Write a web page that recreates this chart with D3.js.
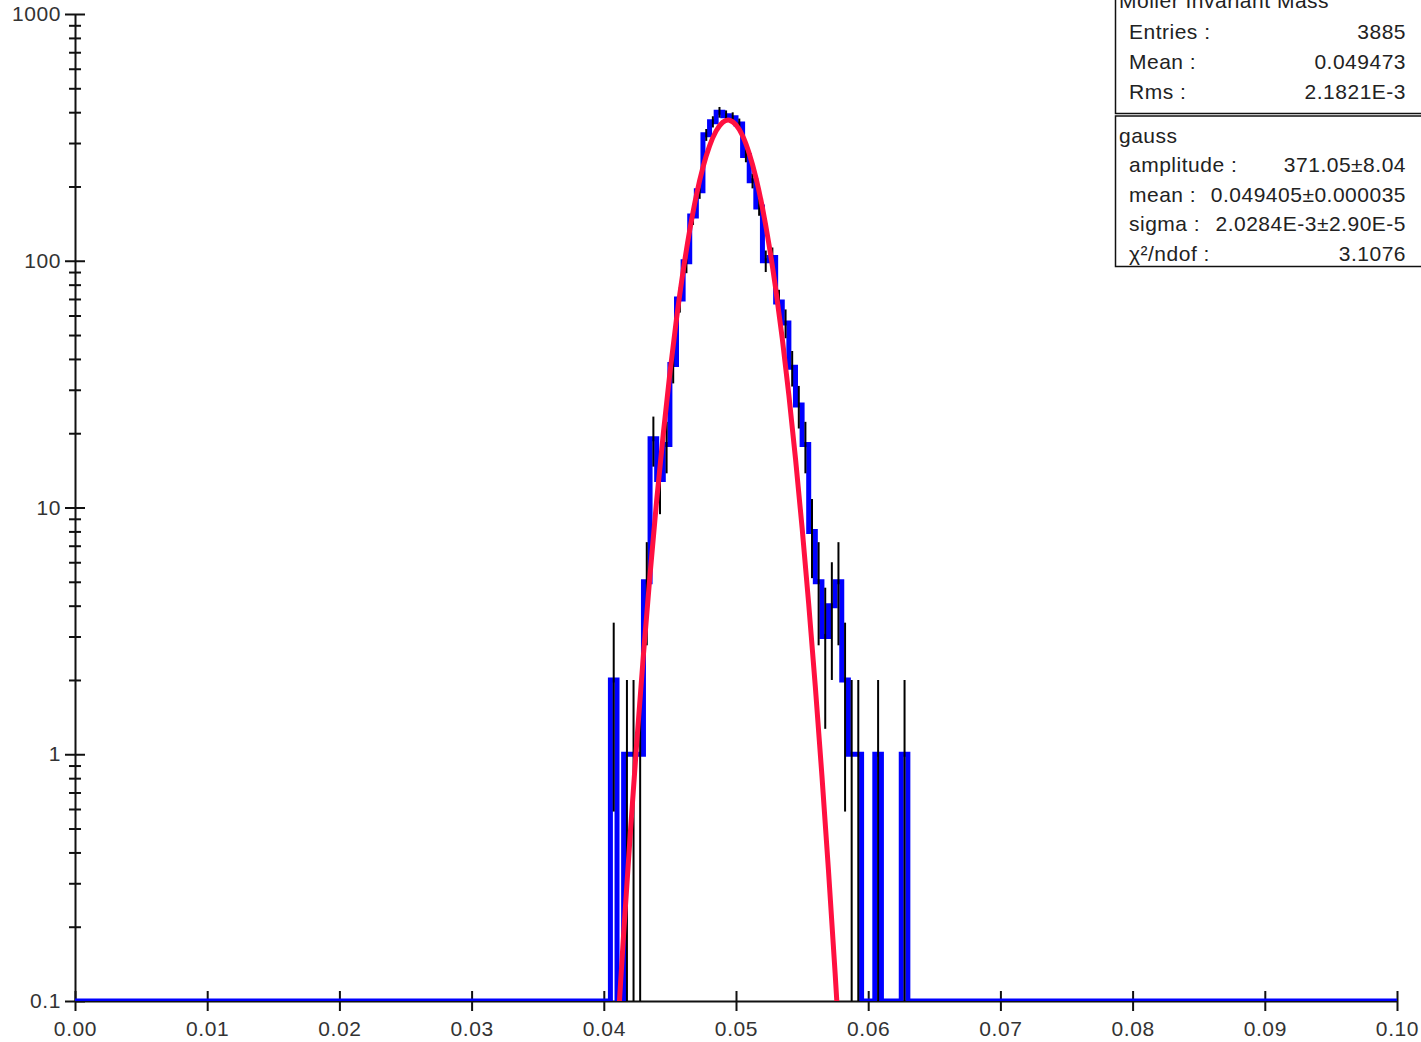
<!DOCTYPE html>
<html>
<head>
<meta charset="utf-8">
<script src="https://cdn.jsdelivr.net/npm/d3@7"></script>
<style>
  html, body { margin: 0; padding: 0; background: #fff; }
  svg { display: block; font-family: "Liberation Sans", Arial, sans-serif; }
  .axis text { font-size: 21px; fill: #333; letter-spacing: 0.6px; }
  .axis path, .axis line { stroke: #111; stroke-width: 2; }
  .stats text { font-size: 21px; fill: #222; letter-spacing: 0.5px; }
</style>
</head>
<body>
<div id="chart"></div>
<script>
//histogram: 200 bins over [0, 0.1], only the non-empty bins are listed
const xMin = 0, xMax = 0.1, nBins = 200;
const binLow = [0.0405, 0.0415, 0.0420, 0.0425, 0.0430, 0.0435, 0.0440, 0.0445,
  0.0450, 0.0455, 0.0460, 0.0465, 0.0470, 0.0475, 0.0480, 0.0485, 0.0490, 0.0495,
  0.0500, 0.0505, 0.0510, 0.0515, 0.0520, 0.0525, 0.0530, 0.0535, 0.0540, 0.0545,
  0.0550, 0.0555, 0.0560, 0.0565, 0.0570, 0.0575, 0.0580, 0.0585, 0.0590, 0.0605,
  0.0625];
const binCount = [2, 1, 1, 1, 5, 19, 13, 18,
  38, 70, 99, 152, 192, 324, 366, 400, 387, 380,
  358, 267, 211, 165, 100, 103, 68, 56, 37, 26,
  18, 8, 5, 3, 4, 5, 2, 1, 1, 1,
  1];

//gauss fit curve
const fitX = [0.0410, 0.0415, 0.0420, 0.0425, 0.0430, 0.0435, 0.0440, 0.0445, 0.0450,
  0.0455, 0.0460, 0.0465, 0.0470, 0.0475, 0.0480, 0.0485, 0.0490, 0.0495, 0.0500,
  0.0505, 0.0510, 0.0515, 0.0520, 0.0525, 0.0530, 0.0535, 0.0540, 0.0545, 0.0550,
  0.0555, 0.0560, 0.0565, 0.0570, 0.0575, 0.0580];
const fitY = [0.0693, 0.187, 0.474, 1.13, 2.54, 5.36, 10.7, 19.9, 35.1,
  58.2, 90.7, 133, 184, 239, 292, 336, 364, 371, 355,
  321, 272, 218, 164, 116, 77.2, 48.4, 28.5, 15.8, 8.27,
  4.06, 1.88, 0.818, 0.335, 0.129, 0.0468];

//ticks
const xTicks = [0, 0.01, 0.02, 0.03, 0.04, 0.05, 0.06, 0.07, 0.08, 0.09, 0.1];
const yTicks = [0.1, 1, 10, 100, 1000];
const yTickLabels = ["0.1", "1", "10", "100", "1000"];

//stats box
const statsTitle = "Moller Invariant Mass";
const statsLabels = ["Entries :", "Mean :", "Rms :"];
const statsValues = ["3885", "0.049473", "2.1821E-3"];
const fitTitle = "gauss";
const fitLabels = ["amplitude :", "mean :", "sigma :", "χ²/ndof :"];
const fitValues = ["371.05±8.04", "0.049405±0.000035", "2.0284E-3±2.90E-5", "3.1076"];

//size
const width = 1421, height = 1042;
const plot = { left: 75, right: 1397, top: 14, bottom: 1001 };

//scale
const xScale = d3.scaleLinear().domain([xMin, xMax]).range([plot.left, plot.right]);
const yScale = d3.scaleLog().domain([0.1, 1000]).range([plot.bottom, plot.top]);
const yPos = (v) => (v > 0 ? yScale(v) : plot.bottom);

//data process
const bw = (xMax - xMin) / nBins;
const counts = new Array(nBins).fill(0);
binLow.forEach((b, i) => { counts[Math.round((b - xMin) / bw)] = binCount[i]; });
const bins = counts.map((n, i) => ({ x0: xMin + i * bw, n }));
const stepPts = bins.map((b) => [b.x0, b.n]).concat([[xMax, counts[nBins - 1]]]);
const filled = bins.filter((b) => b.n > 0);

//create element
const svg = d3.select("#chart").append("svg")
  .attr("width", width).attr("height", height);

svg.append("defs").append("clipPath").attr("id", "plot-clip")
  .append("rect")
  .attr("x", plot.left).attr("y", 0)
  .attr("width", plot.right - plot.left).attr("height", plot.bottom);

//x-axis, ticks on both sides
svg.append("g").attr("class", "axis x-axis")
  .attr("transform", `translate(0,${plot.bottom})`)
  .call(d3.axisBottom(xScale).tickValues(xTicks).tickFormat(d3.format(".2f"))
    .tickSizeInner(10).tickSizeOuter(0).tickPadding(10));
svg.append("g").attr("class", "axis x-axis-up")
  .attr("transform", `translate(0,${plot.bottom})`)
  .call(d3.axisTop(xScale).tickValues(xTicks).tickFormat("").tickSize(10))
  .call((g) => g.select(".domain").remove());

//y-axis, majors and log minors on both sides
const yMinor = yScale.ticks().filter((t) => !yTicks.some((m) => Math.abs(m - t) < 1e-9));
svg.append("g").attr("class", "axis y-axis")
  .attr("transform", `translate(${plot.left},0)`)
  .call(d3.axisLeft(yScale).tickValues(yTicks)
    .tickFormat((d, i) => yTickLabels[i])
    .tickSizeInner(10).tickSizeOuter(0).tickPadding(4));
svg.append("g").attr("class", "axis y-axis-r")
  .attr("transform", `translate(${plot.left},0)`)
  .call(d3.axisRight(yScale).tickValues(yTicks).tickFormat("").tickSize(10))
  .call((g) => g.select(".domain").remove());
svg.append("g").attr("class", "axis y-minor")
  .attr("transform", `translate(${plot.left},0)`)
  .call(d3.axisLeft(yScale).tickValues(yMinor).tickFormat("").tickSize(6))
  .call((g) => g.select(".domain").remove());
svg.append("g").attr("class", "axis y-minor-r")
  .attr("transform", `translate(${plot.left},0)`)
  .call(d3.axisRight(yScale).tickValues(yMinor).tickFormat("").tickSize(6))
  .call((g) => g.select(".domain").remove());

//mark
const mark = svg.append("g").attr("class", "mark").attr("clip-path", "url(#plot-clip)");

mark.append("path")
  .datum(stepPts)
  .attr("fill", "none")
  .attr("stroke", "#0000ff")
  .attr("stroke-width", 5)
  .attr("d", d3.line().x((d) => xScale(d[0])).y((d) => yPos(d[1])).curve(d3.curveStepAfter));

mark.selectAll("line.err")
  .data(filled)
  .join("line")
  .attr("class", "err")
  .attr("x1", (d) => xScale(d.x0 + bw / 2))
  .attr("x2", (d) => xScale(d.x0 + bw / 2))
  .attr("y1", (d) => yPos(d.n - Math.sqrt(d.n)))
  .attr("y2", (d) => yPos(d.n + Math.sqrt(d.n)))
  .attr("stroke", "#000")
  .attr("stroke-width", 2);

mark.append("path")
  .datum(fitX.map((v, i) => [v, fitY[i]]))
  .attr("fill", "none")
  .attr("stroke", "#ff1040")
  .attr("stroke-width", 5)
  .attr("d", d3.line().x((d) => xScale(d[0])).y((d) => yScale(d[1])).curve(d3.curveNatural));

//stats box
const stats = svg.append("g").attr("class", "stats");
const boxX = 1115.5, valX = 1406, labX = 1129;

stats.append("rect")
  .attr("x", boxX).attr("y", -10).attr("width", 400).attr("height", 123.5)
  .attr("fill", "#fff").attr("stroke", "#111").attr("stroke-width", 1.5);
stats.append("rect")
  .attr("x", boxX).attr("y", 116).attr("width", 400).attr("height", 150.5)
  .attr("fill", "#fff").attr("stroke", "#111").attr("stroke-width", 1.5);

stats.append("text").attr("x", 1119).attr("y", 8).text(statsTitle);
statsLabels.forEach((t, i) => {
  stats.append("text").attr("x", labX).attr("y", 39 + i * 30).text(t);
  stats.append("text").attr("x", valX).attr("y", 39 + i * 30)
    .attr("text-anchor", "end").text(statsValues[i]);
});

stats.append("text").attr("x", 1119).attr("y", 143).text(fitTitle);
fitLabels.forEach((t, i) => {
  stats.append("text").attr("x", labX).attr("y", 172 + i * 29.7).text(t);
  stats.append("text").attr("x", valX).attr("y", 172 + i * 29.7)
    .attr("text-anchor", "end").text(fitValues[i]);
});
</script>
</body>
</html>
